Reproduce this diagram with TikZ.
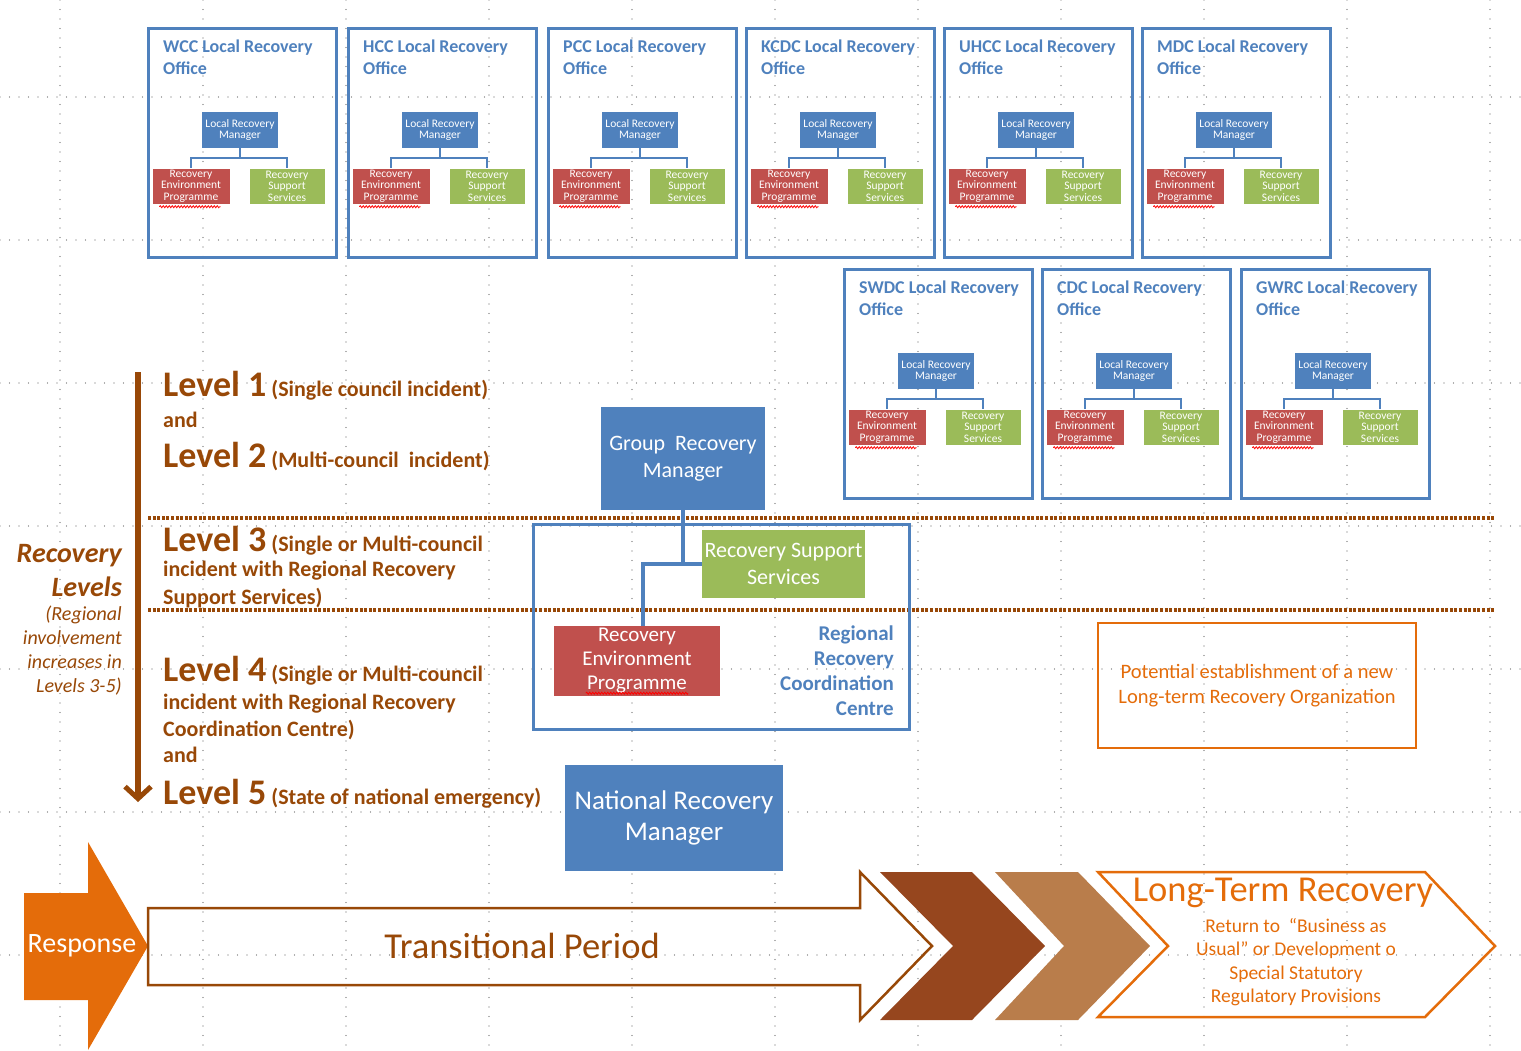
\documentclass[tikz,border=0pt]{standalone}
\usepackage{fontspec}
\setmainfont{Carlito}
\usetikzlibrary{arrows.meta,decorations.pathmorphing}
\definecolor{orgblue}{RGB}{79,129,189}
\definecolor{orgred}{RGB}{192,80,77}
\definecolor{orggreen}{RGB}{155,187,89}
\definecolor{lvbrown}{RGB}{152,72,7}
\definecolor{ltorange}{RGB}{228,108,10}
\definecolor{chevdark}{RGB}{150,70,30}
\definecolor{chevlight}{RGB}{185,125,75}
\definecolor{gridgray}{RGB}{95,95,95}
\newcommand\lvnum[1]{{\fontsize{36}{36}\selectfont #1}}

\begin{document}
\begin{tikzpicture}[x=1pt, y=-1pt, every node/.style={inner sep=0pt},
    griddot/.style={gridgray, line width=1.3pt, line cap=round, dash pattern=on 0pt off 9.5pt},
    lvdots/.style={lvbrown, line width=3.5pt, dash pattern=on 3pt off 1.6pt},
    office/.style={draw=orgblue, line width=2.5pt, minimum width=188pt, minimum height=229pt, anchor=north west},
    offtitle/.style={orgblue, font=\bfseries\fontsize{18}{22}\selectfont, align=left, anchor=west},
    mini/.style={text=white, font=\fontsize{11.5}{11.5}\selectfont, align=center, minimum height=35pt},
    lrm/.style={mini, fill=orgblue, minimum width=76pt, minimum height=36pt},
    rep/.style={mini, fill=orgred, minimum width=77pt},
    rss/.style={mini, fill=orggreen, minimum width=75pt},
    orgline/.style={orgblue, line width=2.5pt},
    squig/.style={red, line width=0.8pt, decorate, decoration={snake, amplitude=1pt, segment length=3pt}},
    big/.style={text=white, align=center, font=\fontsize{22}{27}\selectfont},
    bigline/.style={orgblue, line width=4pt},
    lvl/.style={lvbrown, font=\bfseries\fontsize{22}{24}\selectfont, anchor=base west},
    note/.style={lvbrown, font=\itshape\fontsize{20}{24}\selectfont, anchor=base east},
    ltext/.style={ltorange, align=center},
]
\useasboundingbox (0,0) rectangle (1521,1050);

% background grid
\foreach \gx in {60,203,...,1490}
    \draw[griddot] (\gx,0) -- (\gx,1050);
\foreach \gy in {97,240,...,955}
    \draw[griddot] (0,\gy) -- (1521,\gy);

% level separators
\draw[lvdots] (148,518) -- (1495,518);
\draw[lvdots] (148,610) -- (1495,610);

% local recovery offices
\foreach \oid/\ox/\oy/\oname in {wcc/147/27/WCC, hcc/347/27/HCC, pcc/547/27/PCC, kcdc/745/27/KCDC,
        uhcc/943/27/UHCC, mdc/1141/27/MDC, swdc/843/268/SWDC, cdc/1041/268/CDC, gwrc/1240/268/GWRC} {
    \node[office] (\oid) at (\ox,\oy) {};
    \node[offtitle] (\oid-t) at (\ox+16,\oy+30) {\oname{} Local Recovery\\Office};
    \node[lrm] (\oid-m) at (\ox+93,\oy+103) {Local Recovery\\Manager};
    \node[rep] (\oid-r) at (\ox+44,\oy+159) {Recovery\\Environment\\Programme};
    \node[rss] (\oid-s) at (\ox+140,\oy+159) {Recovery\\Support\\Services};
    \draw[orgline] (\oid-m.south) -- ++(0,10) -| (\oid-r.north);
    \draw[orgline] (\oid-m.south) -- ++(0,10) -| (\oid-s.north);
    \draw[squig] ([xshift=7pt,yshift=-3pt]\oid-r.south west) -- ([xshift=-9pt,yshift=-3pt]\oid-r.south east);
}

% regional level
\node[big, fill=orgblue, minimum width=164pt, minimum height=103pt] (grm) at (683,458.5) {Group~~Recovery\\Manager};
\node[draw=orgblue, line width=2.5pt, minimum width=376pt, minimum height=205pt, anchor=north west] (rrcc) at (532,523) {};
\node[orgblue, font=\bfseries\fontsize{21}{25}\selectfont, align=right, anchor=base east] (rrcc-t) at (894,715) {Regional\\Recovery\\Coordination\\Centre};
\node[big, fill=orggreen, minimum width=163pt, minimum height=68pt] (rss) at (783.5,564) {Recovery Support\\Services};
\node[big, fill=orgred, font=\fontsize{21}{24}\selectfont, minimum width=166pt, minimum height=70pt] (rep) at (637,661) {Recovery\\Environment\\Programme};
\draw[squig] ([xshift=32pt,yshift=3pt]rep.south west) -- ([xshift=-32pt,yshift=3pt]rep.south east);
\draw[bigline] (grm.south) |- (rss.west);
\draw[bigline] (rss.west) -| ([xshift=6pt]rep.north);

\node[big, fill=orgblue, font=\fontsize{27}{31}\selectfont, minimum width=218pt, minimum height=106pt] (nrm) at (674,818) {National Recovery\\Manager};

\node[draw=ltorange, line width=2.5pt, minimum width=318pt, minimum height=125pt, ltext,
      font=\fontsize{20.5}{25}\selectfont] (ltro) at (1257,685.5) {Potential establishment of a new\\Long-term Recovery Organization};

% recovery levels
\coordinate (lvtop) at (138,372);
\coordinate (lvbot) at (138,802);
\draw[lvbrown, line width=6pt, -{Straight Barb[length=12pt, width=26pt, line width=5pt]}] (lvtop) -- (lvbot);

\node[lvl] (l1) at (163,396) {\lvnum{Level 1} (Single council incident)};
\node[lvl] (l1and) at (163,427) {and};
\node[lvl] (l2) at (163,467) {\lvnum{Level 2} (Multi-council~~incident)};
\node[lvl] (l3) at (163,551) {\lvnum{Level 3} (Single or Multi-council};
\node[lvl] (l3b) at (163,576) {incident with Regional Recovery};
\node[lvl] (l3c) at (163,604) {Support Services)};
\node[lvl] (l4) at (163,681) {\lvnum{Level 4} (Single or Multi-council};
\node[lvl] (l4b) at (163,709) {incident with Regional Recovery};
\node[lvl] (l4c) at (163,736) {Coordination Centre)};
\node[lvl] (l4and) at (163,762) {and};
\node[lvl] (l5) at (163,804) {\lvnum{Level 5} (State of national emergency)};

\node[note, font=\bfseries\itshape\fontsize{28}{33}\selectfont] (rl1) at (122,562) {Recovery};
\node[note, font=\bfseries\itshape\fontsize{28}{33}\selectfont] (rl2) at (122,596) {Levels};
\node[note] (rn1) at (122,620) {(Regional};
\node[note] (rn2) at (122,644) {involvement};
\node[note] (rn3) at (122,668) {increases in};
\node[note] (rn4) at (122,692) {Levels 3-5)};

% time line
\fill[ltorange] (24,893) -- (88,893) -- (88,842) -- (148,946) -- (88,1050) -- (88,1000) -- (24,1000) -- cycle;
\node[text=white, font=\fontsize{28}{28}\selectfont] (resp) at (82,946) {Response};

\draw[lvbrown, line width=2.5pt, line join=miter] (148,908) -- (860,908) -- (860,872) -- (932,946) -- (860,1020) -- (860,985) -- (148,985) -- cycle;
\node[lvbrown, font=\fontsize{36.5}{36.5}\selectfont] (trans) at (522,946) {Transitional Period};

\fill[chevdark] (880,872) -- (972,872) -- (1045,946) -- (972,1020) -- (880,1020) -- (953,946) -- cycle;
\fill[chevlight] (995,872) -- (1078,872) -- (1150,946) -- (1078,1020) -- (995,1020) -- (1064,946) -- cycle;
\draw[ltorange, line width=2.5pt] (1098,872) -- (1425,872) -- (1495,946) -- (1425,1017) -- (1098,1017) -- (1168,946) -- cycle;
\node[ltext, font=\fontsize{36.5}{36.5}\selectfont] (ltr) at (1283,893) {Long-Term Recovery};
\node[ltext, font=\fontsize{19.5}{23.5}\selectfont] (ltr-t) at (1296,962) {Return to~~“Business as\\Usual” or Development o\\Special Statutory\\Regulatory Provisions};
\end{tikzpicture}
\end{document}
